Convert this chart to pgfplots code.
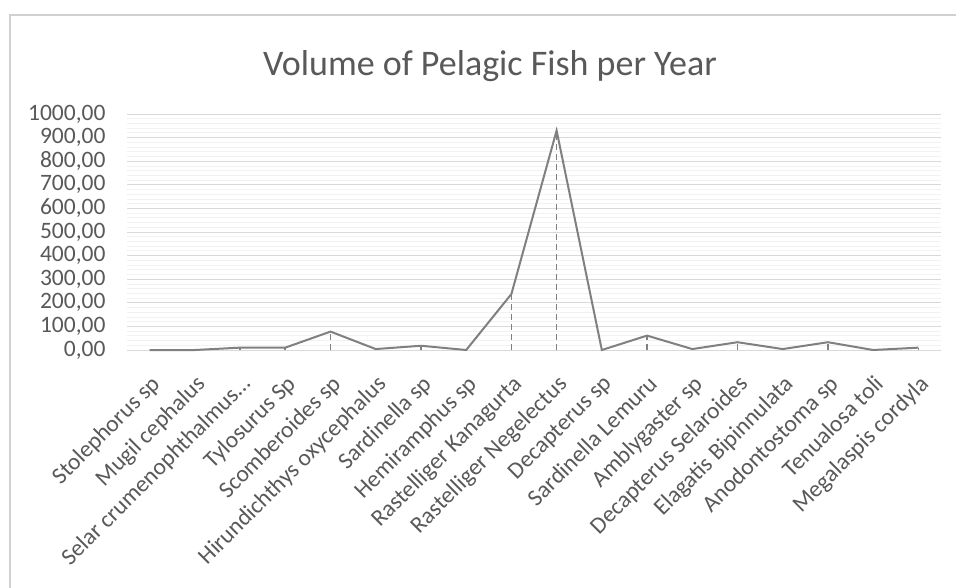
\documentclass[border=0pt]{standalone}
\usepackage{fontspec}
\setmainfont{Carlito}
\usepackage{pgfplots}
\pgfplotsset{compat=1.18}
\definecolor{txt}{HTML}{595959}
\definecolor{ln}{HTML}{808080}
\definecolor{grd}{HTML}{D9D9D9}
\definecolor{mgrd}{HTML}{F2F2F2}
\definecolor{frm}{HTML}{D0D0D0}
\newcommand{\selar}{Selar crumenophthalmus\char"2026\relax}
\begin{document}
\begin{tikzpicture}[x=1pt,y=1pt]
\useasboundingbox (0,0) rectangle (956,587);
\fill[white] (0,0) rectangle (956,587);
\draw[frm,line width=1.5pt] (10,-5) -- (10,572) -- (970,572);
\node[txt,font=\fontsize{36}{40}\selectfont] at (490,521) {Volume of Pelagic Fish per Year};
\begin{axis}[
  at={(127pt,237pt)}, anchor=south west,
  scale only axis, width=814pt, height=236pt,
  xmin=-0.5, xmax=17.5, ymin=0, ymax=1000,
  axis line style={draw=none},
  tick style={draw=none},
  xtick={0,1,2,3,4,5,6,7,8,9,10,11,12,13,14,15,16,17},
  xticklabels={Stolephorus sp,Mugil cephalus,\selar,Tylosurus Sp,Scomberoides sp,Hirundichthys oxycephalus,Sardinella sp,Hemiramphus sp,Rastelliger Kanagurta,Rastelliger Negelectus,Decapterus sp,Sardinella Lemuru,Amblygaster sp,Decapterus Selaroides,Elagatis Bipinnulata,Anodontostoma sp,Tenualosa toli,Megalaspis cordyla},
  x tick label style={rotate=45, anchor=north east, font=\fontsize{23.5}{26}\selectfont, text=txt, inner sep=1pt, xshift=-15.7pt, yshift=-15.5pt},
  ytick={0,100,200,300,400,500,600,700,800,900,1000},
  minor y tick num=4,
  ymajorgrids, yminorgrids,
  major grid style={grd, line width=0.8pt},
  minor grid style={mgrd, line width=0.8pt},
  y tick label style={font=\fontsize{23.5}{26}\selectfont, text=txt, xshift=-18pt},
  yticklabel={\pgfmathprintnumber[fixed,fixed zerofill,precision=2,use comma,1000 sep={},assume math mode=true]{\tick}},
  clip=false,
]
\addplot[ycomb, ln, line width=1.7pt, dash pattern=on 6pt off 4pt, no marks] coordinates {
(0,0) (1,0) (2,10) (3,10) (4,78) (5,4) (6,18) (7,0) (8,237) (9,930) (10,0) (11,61) (12,4) (13,33) (14,4) (15,33) (16,0) (17,10)
};
\addplot[ln, line width=2pt, no marks] coordinates {
(0,0) (1,0) (2,10) (3,10) (4,78) (5,4) (6,18) (7,0) (8,237) (9,930) (10,0) (11,61) (12,4) (13,33) (14,4) (15,33) (16,0) (17,10)
};
\end{axis}
\end{tikzpicture}
\end{document}
